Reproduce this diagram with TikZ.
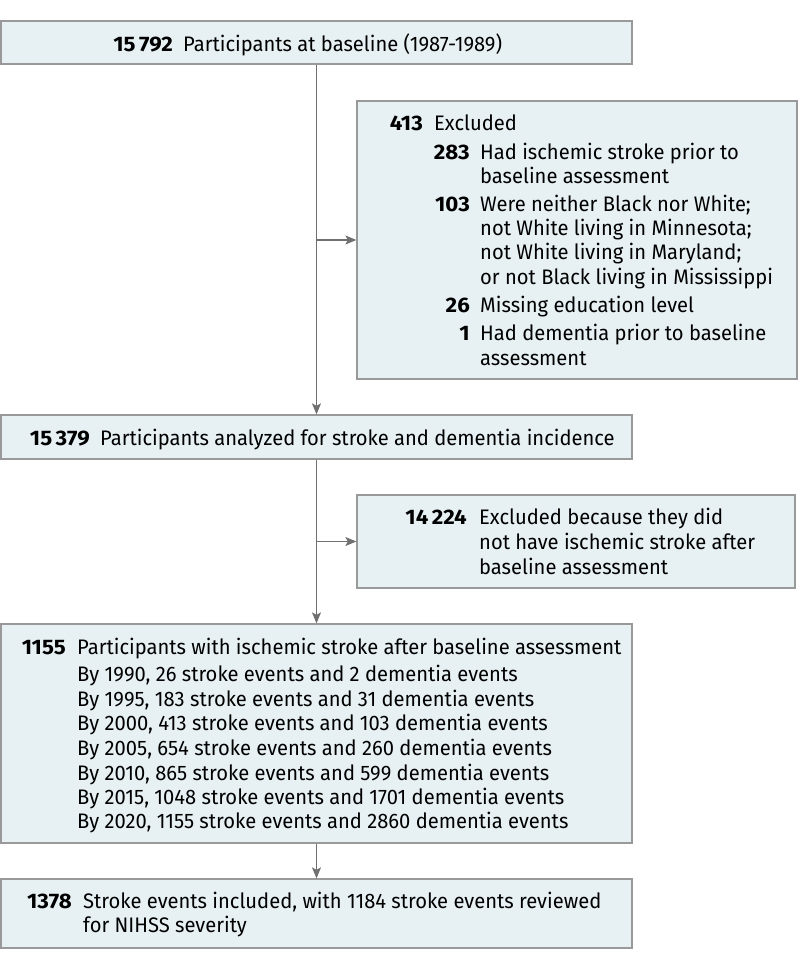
\documentclass[tikz,border=0pt]{standalone}
\usepackage{fontspec}
\setmainfont{Fira Sans}[FakeStretch=0.96, BoldFeatures={FakeStretch=1.06}]
\usetikzlibrary{arrows.meta}
\definecolor{boxfill}{HTML}{E7F1F4}
\definecolor{boxline}{HTML}{999999}
\definecolor{connline}{HTML}{707070}
\begin{document}
\begin{tikzpicture}[x=1pt,y=-1pt,
  box/.style={draw=boxline, line width=1.3pt, fill=boxfill, inner sep=0pt},
  conn/.style={draw=connline, line width=1.1pt},
  arr/.style={conn, -{Stealth[length=11pt,width=9pt,inset=2.5pt]}},
  txt/.style={anchor=base west, inner sep=0pt, font=\fontsize{21}{24.5}\selectfont},
  num/.style={anchor=base east, inner sep=0pt, font=\fontsize{21}{24.5}\selectfont\bfseries}]
\useasboundingbox (0,0) rectangle (798,969);
\fill[white] (0,0) rectangle (798,969);

% boxes
\node[box, minimum width=631pt, minimum height=43pt] (b1) at (316.5,42.5) {};
\node[box, minimum width=440pt, minimum height=278pt] (e1) at (577,240) {};
\node[box, minimum width=631pt, minimum height=44pt] (b2) at (316.5,437) {};
\node[box, minimum width=438pt, minimum height=93pt] (e2) at (576,541.5) {};
\node[box, minimum width=631pt, minimum height=219pt] (b3) at (316.5,733.5) {};
\node[box, minimum width=631pt, minimum height=69pt] (b4) at (316.5,913.5) {};

% box 1
\node[num] (n1) at (173,51) {15\,792};
\node[txt] (t1) at (183,51) {Participants at baseline (1987-1989)};

% exclusion 1
\node[num] (n2) at (423,130) {413};
\node[txt] (t2) at (434,130) {Excluded};
\node[num] (n3) at (470,159) {283};
\node[txt] (t3a) at (480,159) {Had ischemic stroke prior to};
\node[txt] (t3b) at (480,183) {baseline assessment};
\node[num] (n4) at (470,211) {103};
\node[txt] (t4a) at (480,211) {Were neither Black nor White;};
\node[txt] (t4b) at (480,235) {not White living in Minnesota;};
\node[txt] (t4c) at (480,259.5) {not White living in Maryland;};
\node[txt] (t4d) at (480,284) {or not Black living in Mississippi};
\node[num] (n5) at (470,312) {26};
\node[txt] (t5) at (480,312) {Missing education level};
\node[num] (n6) at (470,340.5) {1};
\node[txt] (t6a) at (480,340.5) {Had dementia prior to baseline};
\node[txt] (t6b) at (480,365) {assessment};

% box 2
\node[num] (n7) at (90,445) {15\,379};
\node[txt] (t7) at (100,445) {Participants analyzed for stroke and dementia incidence};

% exclusion 2
\node[num] (n8) at (467,524) {14\,224};
\node[txt] (t8a) at (479,524) {Excluded because they did};
\node[txt] (t8b) at (479,549) {not have ischemic stroke after};
\node[txt] (t8c) at (479,574) {baseline assessment};

% box 3
\node[num] (n9) at (66,654) {1155};
\node[txt] (t9) at (77,654) {Participants with ischemic stroke after baseline assessment};
\node[txt] (y1) at (77,681.7) {By 1990, 26 stroke events and 2 dementia events};
\node[txt] (y2) at (77,706) {By 1995, 183 stroke events and 31 dementia events};
\node[txt] (y3) at (77,730.7) {By 2000, 413 stroke events and 103 dementia events};
\node[txt] (y4) at (77,755) {By 2005, 654 stroke events and 260 dementia events};
\node[txt] (y5) at (77,780) {By 2010, 865 stroke events and 599 dementia events};
\node[txt] (y6) at (77,804.3) {By 2015, 1048 stroke events and 1701 dementia events};
\node[txt] (y7) at (77,828.7) {By 2020, 1155 stroke events and 2860 dementia events};

% box 4
\node[num] (n10) at (72,908.3) {1378};
\node[txt] (t10a) at (83,908.3) {Stroke events included, with 1184 stroke events reviewed};
\node[txt] (t10b) at (83,932.7) {for NIHSS severity};

% connectors
\draw[arr] (b1.south) -- (b2.north);
\draw[arr] (b1.south |- e1.west) -- (e1.west);
\draw[arr] (b2.south) -- (b3.north);
\draw[arr] (b2.south |- e2.west) -- (e2.west);
\draw[arr] (b3.south) -- (b4.north);
\end{tikzpicture}
\end{document}
